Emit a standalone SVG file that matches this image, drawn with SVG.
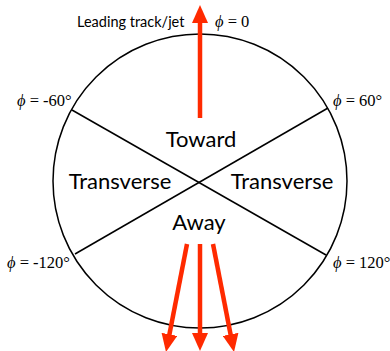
<svg xmlns="http://www.w3.org/2000/svg" width="390" height="351" viewBox="0 0 390 351">
<style>
.lbl{font-family:Lato,"Open Sans",sans-serif;font-size:22px;fill:#000;text-anchor:middle}
.small{font-family:Lato,"Open Sans",sans-serif;font-size:14.5px;fill:#000}
.phi{font-family:"Liberation Serif","DejaVu Serif",serif;font-size:16.5px;fill:#000}
.it{font-style:italic}
.arr{stroke:#FF2A00;stroke-width:4.5;fill:none;marker-end:url(#head)}
</style>
<defs>
<marker id="head" markerUnits="userSpaceOnUse" viewBox="0 0 18 16" markerWidth="18" markerHeight="16" refX="8" refY="8" orient="auto">
<path d="M0,0 L18,8 L0,16 z" fill="#FF2A00"/>
</marker>
</defs>
<g id="circle">
<circle cx="200" cy="181" r="147" fill="#fff" stroke="#000" stroke-width="1.5"/>
</g>
<g id="dividers" stroke="#000" stroke-width="1.5">
<line x1="72" y1="110" x2="326" y2="255"/>
<line x1="328" y1="108" x2="75" y2="254"/>
</g>
<g id="regions">
<text id="toward" class="lbl" x="201" y="147">Toward</text>
<text id="transverse-left" class="lbl" x="120" y="189">Transverse</text>
<text id="transverse-right" class="lbl" x="282" y="189">Transverse</text>
<text id="away" class="lbl" x="199" y="230">Away</text>
</g>
<g id="labels">
<text class="small" x="77" y="27">Leading track/jet</text>
<text class="phi" x="215" y="27"><tspan class="it">ϕ</tspan> = 0</text>
<text class="phi" x="17" y="106"><tspan class="it">ϕ</tspan> = -60°</text>
<text class="phi" x="333" y="106"><tspan class="it">ϕ</tspan> = 60°</text>
<text class="phi" x="7" y="268"><tspan class="it">ϕ</tspan> = -120°</text>
<text class="phi" x="333" y="268"><tspan class="it">ϕ</tspan> = 120°</text>
</g>
<g id="connectors">
<line class="arr" x1="200" y1="118" x2="200" y2="15"/>
<line class="arr" x1="200" y1="244" x2="200" y2="341"/>
<line class="arr" x1="187" y1="244" x2="167.9" y2="342.2"/>
<line class="arr" x1="213" y1="244" x2="232.1" y2="342.2"/>
</g>
</svg>
